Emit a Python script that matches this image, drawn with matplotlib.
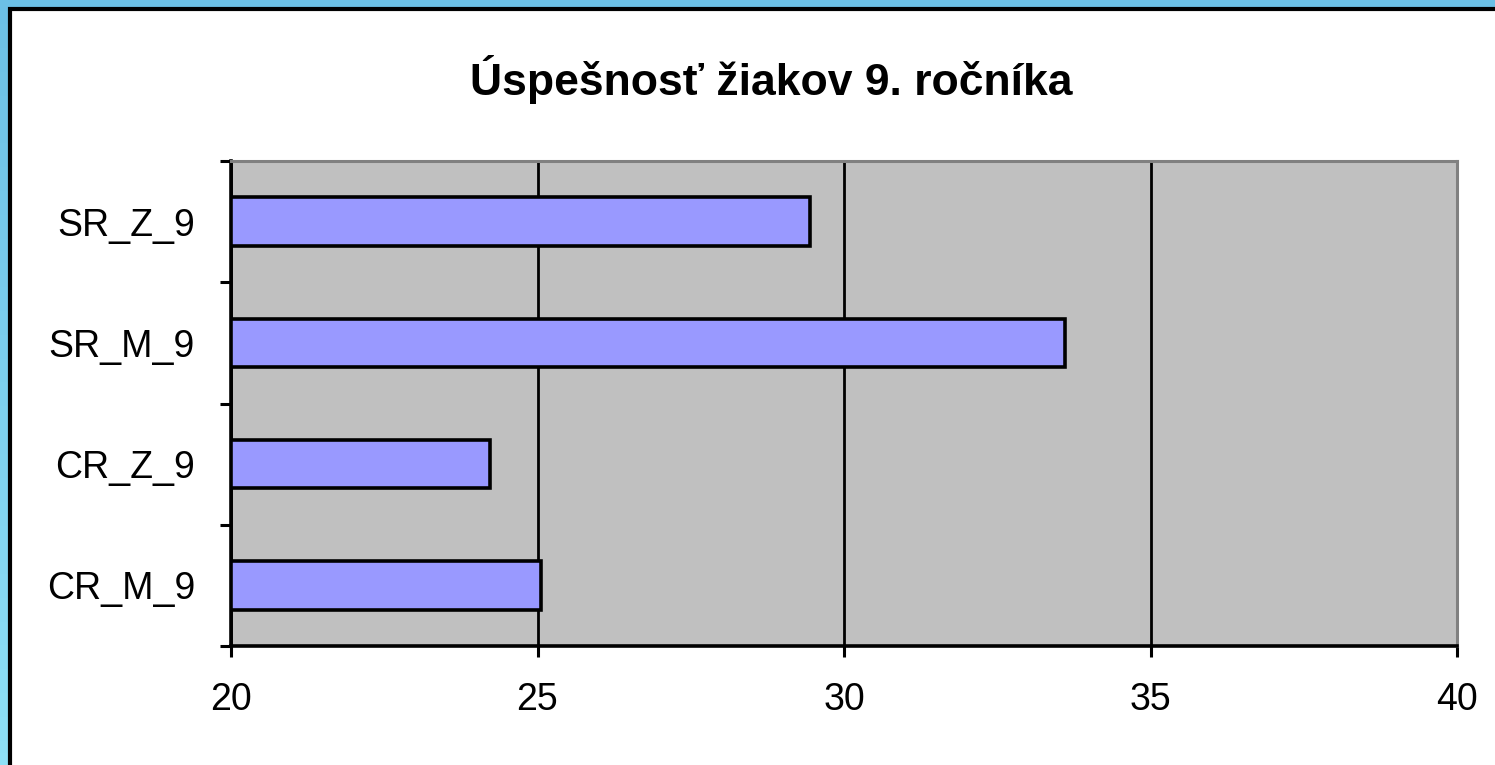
import numpy as np
import matplotlib.pyplot as plt
from matplotlib.patches import Rectangle

# categories bottom -> top
categories = ['CR_M_9', 'CR_Z_9', 'SR_M_9', 'SR_Z_9']
values = [25.05, 24.22, 33.6, 29.45]
x_ticks = [20, 25, 30, 35, 40]
title = 'Úspešnosť žiakov 9. ročníka'

plt.rcParams['font.family'] = ['Liberation Sans', 'DejaVu Sans']

W, H = 1495, 765
fig = plt.figure(figsize=(W / 100, H / 100), dpi=100)

# blue gradient background
bg = fig.add_axes([0, 0, 1, 1], zorder=-10)
grad = np.linspace(0, 1, 64).reshape(-1, 1)
bg.imshow(grad, aspect='auto', cmap=plt.matplotlib.colors.LinearSegmentedColormap.from_list(
    'bgc', ['#6CC0E6', '#8EE0F6']), extent=[0, 1, 0, 1], origin='upper')
bg.set_xlim(0, 1)
bg.set_ylim(0, 1)
bg.axis('off')

# white panel with black frame
x0 = 9.5 / W
panel = Rectangle((x0, -0.01), 1.02 - x0, 1 - 9.5 / H + 0.01, transform=fig.transFigure,
                  facecolor='white', edgecolor='black', linewidth=3, zorder=-5)
fig.patches.append(panel)

ax = fig.add_axes([231 / W, 1 - 646 / H, (1457 - 231) / W, (646 - 161) / H])
ax.set_facecolor('#C0C0C0')

y = np.arange(len(categories))
ax.barh(y, np.array(values) - 20, left=20, height=0.4, color='#9999FF',
        edgecolor='black', linewidth=2.6, zorder=3)

ax.set_xlim(20, 40)
ax.set_ylim(-0.5, len(categories) - 0.5)
ax.set_xticks(x_ticks)
ax.set_xticklabels([str(t) for t in x_ticks], fontsize=27)
ax.set_yticks(y)
ax.set_yticklabels(categories, fontsize=27)
ax.set_yticks(np.arange(-0.5, len(categories)), minor=True)

ax.tick_params(axis='y', which='major', length=0, pad=26)
ax.tick_params(axis='y', which='minor', length=8, width=2.2, direction='out')
ax.tick_params(axis='x', which='major', length=8, width=2.2, direction='out', pad=18)

ax.grid(axis='x', color='black', linewidth=2.0, zorder=1)
ax.set_axisbelow(True)

for side in ['left', 'bottom']:
    ax.spines[side].set_color('black')
    ax.spines[side].set_linewidth(2.6)
for side in ['top', 'right']:
    ax.spines[side].set_color('#808080')
    ax.spines[side].set_linewidth(2.2)

fig.text(771 / W, 1 - 80 / H, title, ha='center', va='center',
         fontsize=32, fontweight='bold')

fig.savefig('out.png', dpi=100)
